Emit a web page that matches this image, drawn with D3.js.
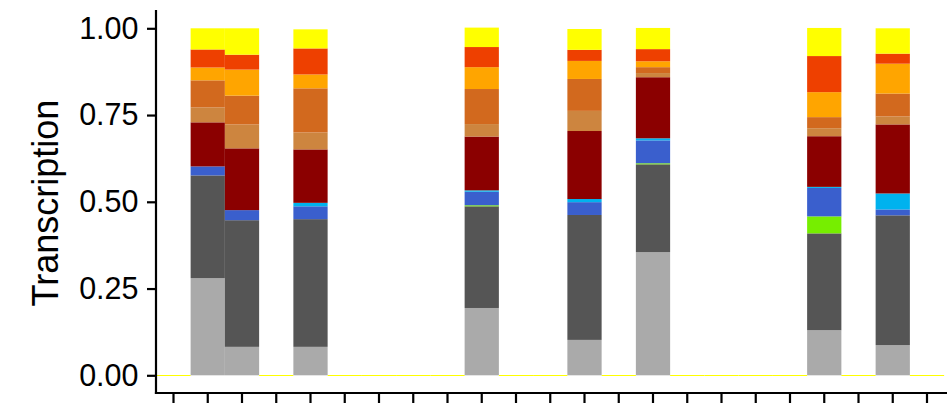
<!DOCTYPE html>
<html>
<head>
<meta charset="utf-8">
<script src="https://cdn.jsdelivr.net/npm/d3@7"></script>
<style>
  html, body { margin: 0; padding: 0; background: #fff; }
  svg { display: block; }
</style>
</head>
<body>
<svg id="chart" width="949" height="405"></svg>
<script>
// ---- data ----
const categories = ["S01","S02","S03","S04","S05","S06","S07","S08","S09","S10","S11","S12",
                    "S13","S14","S15","S16","S17","S18","S19","S20","S21","S22","S23"];
const seriesNames = ["s1","s2","s3","s4","s5","s6","s7","s8","s9","s10","s11"];
const seriesColors = ["#AAAAAA","#555555","#76EE00","#3A5FCD","#00B2EE","#8B0000",
                      "#CD853F","#D2691E","#FFA500","#EE4000","#FFFF00"];
// values per category (bottom to top, in seriesNames order); empty categories are zeros
const barS02 = [0.280, 0.296, 0.000, 0.026, 0.000, 0.127, 0.043, 0.078, 0.037, 0.052, 0.061];
const barS03 = [0.082, 0.365, 0.000, 0.029, 0.000, 0.178, 0.069, 0.083, 0.075, 0.043, 0.076];
const barS05 = [0.082, 0.368, 0.000, 0.037, 0.010, 0.154, 0.049, 0.127, 0.040, 0.075, 0.055];
const barS10 = [0.194, 0.293, 0.003, 0.039, 0.004, 0.155, 0.036, 0.101, 0.063, 0.058, 0.056];
const barS13 = [0.102, 0.360, 0.000, 0.037, 0.009, 0.196, 0.058, 0.092, 0.052, 0.032, 0.060];
const barS15 = [0.355, 0.253, 0.003, 0.066, 0.006, 0.176, 0.012, 0.017, 0.017, 0.035, 0.061];
const barS20 = [0.130, 0.279, 0.049, 0.082, 0.003, 0.146, 0.023, 0.032, 0.072, 0.104, 0.081];
const barS22 = [0.087, 0.374, 0.000, 0.017, 0.046, 0.199, 0.023, 0.066, 0.086, 0.029, 0.073];
const emptyBar = [0,0,0,0,0,0,0,0,0,0,0];
const barValues = {S02: barS02, S03: barS03, S05: barS05, S10: barS10, S13: barS13,
                   S15: barS15, S20: barS20, S22: barS22};
const yTicks = [0, 0.25, 0.5, 0.75, 1];
const yTitle = "Transcription";

// ---- build table ----
const table = categories.map(c => {
  const v = barValues[c] || emptyBar;
  const row = {cat: c};
  seriesNames.forEach((s, i) => row[s] = v[i]);
  return row;
});
const stacked = d3.stack().keys(seriesNames)(table);

// ---- layout ----
const svg = d3.select("#chart");
const step = 34.25;
const x = d3.scaleBand().domain(categories)
  .range([173.5 - step/2, 173.5 + 22*step + step/2]).padding(0);
const y = d3.scaleLinear().domain([0, 1]).range([375.3, 28.3]);
const xLeft = 156, xRight = 947, yBottom = 393, yTop = 10;

// zero baseline of empty bars (yellow)
svg.append("g").selectAll("rect.zero")
  .data(table.filter(r => d3.sum(seriesNames, s => r[s]) === 0))
  .join("rect")
  .attr("x", d => x(d.cat))
  .attr("width", x.bandwidth())
  .attr("y", Math.floor(y(0)))
  .attr("height", 1)
  .attr("fill", "#FFFF00");
// extension of baseline into expansion area
svg.append("rect").attr("x", xLeft).attr("width", x.range()[0] - xLeft)
  .attr("y", Math.floor(y(0))).attr("height", 1).attr("fill", "#FFFF00");

// bars
svg.append("g").selectAll("g")
  .data(stacked)
  .join("g")
  .attr("fill", (d, i) => seriesColors[i])
  .selectAll("rect")
  .data(d => d.filter(p => p[1] - p[0] > 0))
  .join("rect")
  .attr("x", d => x(d.data.cat))
  .attr("width", x.bandwidth())
  .attr("y", d => y(d[1]))
  .attr("height", d => y(d[0]) - y(d[1]));

// y axis
const yAxis = d3.axisLeft(y).tickValues(yTicks).tickFormat(d3.format(".2f"))
  .tickSize(9).tickPadding(8.5);
const gy = svg.append("g").attr("transform", `translate(${xLeft},0)`).call(yAxis);
gy.select(".domain").remove();
gy.selectAll(".tick line").attr("stroke", "#000").attr("stroke-width", 2.2);
gy.selectAll(".tick text").attr("fill", "#000")
  .style("font-family", "'Liberation Sans', Arial, sans-serif").style("font-size", "30.5px");
svg.append("line").attr("x1", xLeft).attr("x2", xLeft).attr("y1", yTop).attr("y2", yBottom + 1.1)
  .attr("stroke", "#000").attr("stroke-width", 2.2);

// x axis
const xAxis = d3.axisBottom(x).tickFormat("").tickSize(10);
const gx = svg.append("g").attr("transform", `translate(0,${yBottom})`).call(xAxis);
gx.select(".domain").remove();
gx.selectAll(".tick line").attr("stroke", "#000").attr("stroke-width", 2.2);
svg.append("line").attr("x1", xLeft - 1.1).attr("x2", xRight).attr("y1", yBottom).attr("y2", yBottom)
  .attr("stroke", "#000").attr("stroke-width", 2.2);

// y title
svg.append("text")
  .attr("transform", `translate(57.5,203) rotate(-90)`)
  .attr("text-anchor", "middle")
  .style("font-family", "'Liberation Sans', Arial, sans-serif")
  .style("font-size", "36px")
  .attr("fill", "#000")
  .text(yTitle);
</script>
</body>
</html>
